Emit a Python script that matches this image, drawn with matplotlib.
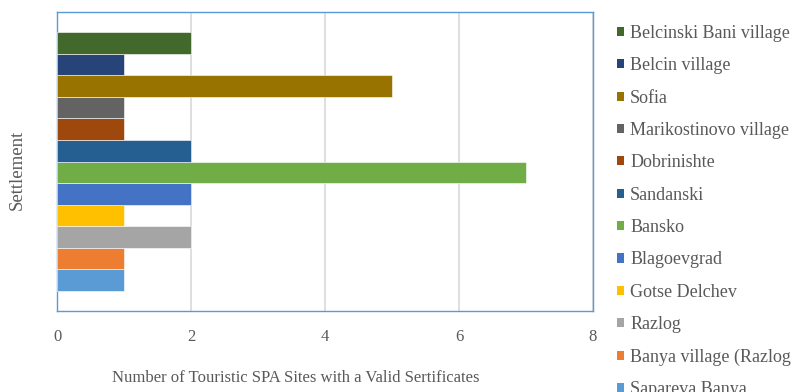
import matplotlib.pyplot as plt
from matplotlib.patches import Patch

# settlements listed bottom -> top, as drawn
settlements = [
    "Sapareva Banya", "Banya village (Razlog", "Razlog", "Gotse Delchev",
    "Blagoevgrad", "Bansko", "Sandanski", "Dobrinishte",
    "Marikostinovo village", "Sofia", "Belcin village", "Belcinski Bani village",
]
spa_sites = [1, 1, 2, 1, 2, 7, 2, 1, 1, 5, 1, 2]
colors = [
    "#5B9BD5", "#ED7D31", "#A5A5A5", "#FFC000", "#4472C4", "#70AD47",
    "#255E91", "#9E480E", "#636363", "#997300", "#264478", "#43682B",
]
x_ticks = [0, 2, 4, 6, 8]

plt.rcParams["font.family"] = ["Liberation Serif", "DejaVu Serif"]

fig = plt.figure(figsize=(7.97, 3.92), dpi=100)
ax = fig.add_axes([57 / 797, 1 - 311 / 392, (593 - 57) / 797, (311 - 12) / 392])

ypos = list(range(len(settlements)))
ax.barh(ypos, spa_sites, height=1.0, color=colors, edgecolor="white", linewidth=0.4, zorder=3)

ax.set_xlim(0, 8)
ax.set_ylim(-0.5 - 0.93, len(settlements) - 0.5 + 0.93)
ax.set_xticks(x_ticks)
ax.set_xticklabels([str(t) for t in x_ticks])
ax.set_yticks([])
ax.tick_params(axis="x", length=0, pad=13, labelsize=12, labelcolor="#595959")
ax.grid(axis="x", color="#D9D9D9", linewidth=1.2, zorder=0)
for s in ax.spines.values():
    s.set_color("#5B9BD5")
    s.set_linewidth(1.0)

ax.set_xlabel("Number of Touristic SPA Sites with a Valid Sertificates",
              fontsize=12, color="#595959")
ax.xaxis.set_label_coords((296 - 57) / 536, -(378 - 311) / 299)
ax.xaxis.label.set_va("center")
ax.set_ylabel("Settlement", fontsize=13.5, color="#595959")
ax.yaxis.set_label_coords(-(57 - 17) / 536, (311 - 169.5) / 299)
ax.yaxis.label.set_va("center")

handles = [Patch(facecolor=c, edgecolor="none") for c in colors[::-1]]
fig.legend(handles, settlements[::-1], loc="upper left",
           bbox_to_anchor=(617 / 797, 1 - 25 / 392), frameon=False,
           fontsize=13, labelcolor="#595959", handlelength=0.4, handleheight=0.4,
           handletextpad=0.33, labelspacing=0.85, borderaxespad=0, borderpad=0)

fig.savefig("out.png", dpi=100)
